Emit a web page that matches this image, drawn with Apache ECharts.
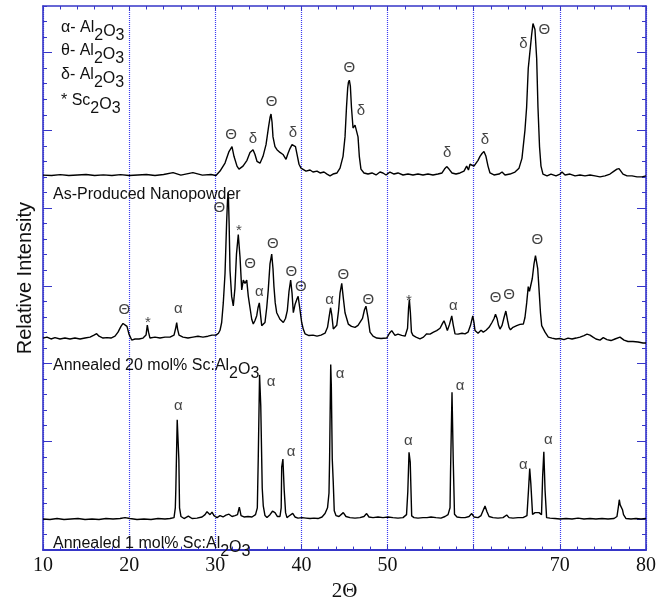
<!DOCTYPE html>
<html>
<head>
<meta charset="utf-8">
<script src="https://cdn.jsdelivr.net/npm/echarts@6/dist/echarts.min.js"></script>
<style>
  html, body { margin: 0; padding: 0; background: #fff; }
  #chart { width: 661px; height: 607px; }
</style>
</head>
<body>
<div id="chart"></div>
<script>
// 2θ values that carry a tick label on the bottom axis (60 is left unlabelled)
const angleTickLabels = [10, 20, 30, 40, 50, 70, 80];
// major tick positions on the intensity axis
const intensityMajorTicks = [0, 5, 10, 15, 20, 25, 30];

// vertical offsets of the three stacked patterns
const producedOffset = 22.1;
const annealed20Offset = 11.67;
const annealed1Offset = 0;

// As-produced nanopowder: [2θ, relative intensity above its own baseline]
const producedPattern = [
  [10.0,0.02],[11.0,0.0],[12.0,0.05],[13.0,0.0],[14.0,0.03],[15.0,0.06],[16.0,0.0],[17.0,0.04],[18.0,0.0],
  [19.0,0.05],[20.0,0.0],[21.0,0.03],[22.0,0.06],[23.0,0.0],[24.0,0.06],[25.1,0.18],[26.0,0.02],[27.4,0.18],
  [28.5,0.02],[29.5,0.06],[30.08,0.0],[30.55,0.28],[31.13,0.8],[31.59,1.54],[31.94,1.85],[32.17,1.23],
  [32.52,0.6],[32.75,0.41],[33.22,0.6],[33.68,0.97],[34.03,1.48],[34.38,1.66],[34.61,1.35],[34.84,0.91],
  [35.19,0.79],[35.54,1.23],[35.89,1.98],[36.18,3.11],[36.36,3.74],[36.47,3.95],[36.59,3.42],[36.70,2.48],
  [36.93,1.85],[37.16,1.66],[37.51,1.48],[37.86,1.35],[38.21,1.04],[38.44,1.41],[38.67,1.73],[38.91,1.98],
  [39.14,2.10],[39.31,1.85],[39.49,1.35],[39.72,0.72],[39.95,0.47],[40.18,0.41],[40.53,0.28],[41.0,0.35],
  [41.34,0.22],[41.81,0.28],[42.16,0.16],[42.62,0.22],[42.97,0.09],[43.32,-0.03],[43.67,0.09],[44.13,0.16],
  [44.48,0.47],[44.83,1.23],[45.06,2.48],[45.23,4.37],[45.37,5.62],[45.46,6.0],[45.56,6.13],[45.68,5.75],
  [45.81,4.37],[45.99,3.05],[46.22,3.24],[46.42,3.36],[46.57,2.48],[46.72,1.23],[46.91,0.41],[47.26,0.16],
  [47.73,0.09],[48.19,0.16],[48.66,0.03],[49.12,0.22],[49.47,0.16],[49.82,0.03],[50.28,0.22],[50.75,0.09],
  [51.21,0.16],[51.79,0.03],[52.37,0.09],[52.95,0.03],[53.53,0.09],[54.11,0.03],[54.69,0.09],[55.27,0.03],
  [55.85,0.09],[56.32,0.16],[56.61,0.41],[56.86,0.57],[57.13,0.41],[57.48,0.16],[57.94,0.09],[58.41,0.16],
  [58.87,0.28],[59.18,0.6],[59.39,0.35],[59.57,0.72],[59.80,0.8],[60.03,0.6],[60.26,0.72],[60.50,0.97],
  [60.73,1.23],[60.96,1.41],[61.19,1.54],[61.42,1.23],[61.66,0.6],[61.89,0.16],[62.35,0.03],[62.94,0.09],
  [63.29,0.22],[63.63,0.03],[64.21,0.09],[64.79,0.22],[65.26,0.47],[65.6,1.1],[65.95,2.92],[66.14,4.37],
  [66.33,6.88],[66.47,7.64],[66.59,7.76],[66.73,9.08],[66.88,9.77],[67.0,9.85],[67.11,9.39],[67.31,7.51],
  [67.46,4.37],[67.64,1.85],[67.81,0.6],[68.04,0.09],[68.51,-0.03],[68.97,0.09],[69.55,-0.03],[70.02,0.09],
  [70.25,0.22],[70.6,0.03],[71.18,0.09],[71.76,-0.03],[72.34,0.03],[72.92,-0.03],[73.5,0.03],[74.08,-0.03],
  [74.66,-0.09],[75.24,-0.03],[75.82,0.09],[76.29,0.28],[76.63,0.41],[76.87,0.44],[77.10,0.35],[77.33,0.09],
  [77.8,-0.03],[78.38,-0.03],[78.96,-0.09],[79.54,-0.09],[80.0,-0.03]
];

// Annealed 20 mol% Sc:Al2O3
const annealed20Pattern = [
  [10.0,-0.03],[10.46,0.03],[10.93,-0.09],[11.39,0.0],[11.97,-0.09],[12.55,-0.03],[13.13,-0.09],[13.71,-0.03],
  [14.30,-0.09],[14.88,-0.03],[15.46,0.03],[15.92,0.16],[16.23,0.25],[16.50,0.09],[16.97,-0.03],[17.43,0.0],
  [17.89,-0.03],[18.36,0.09],[18.71,0.35],[19.05,0.72],[19.29,0.91],[19.52,0.97],[19.75,0.72],[19.98,0.22],
  [20.30,-0.16],[20.68,-0.09],[21.15,-0.09],[21.61,-0.03],[21.96,0.16],[22.11,0.80],[22.25,0.35],[22.42,-0.03],
  [23.0,0.03],[23.58,-0.03],[24.16,0.03],[24.74,0.03],[25.21,0.16],[25.40,0.60],[25.52,0.97],[25.63,0.53],
  [25.79,0.16],[26.25,0.03],[26.83,-0.03],[27.41,0.03],[27.99,0.09],[28.57,0.03],[29.15,0.09],[29.62,0.16],
  [30.08,0.16],[30.37,0.28],[30.55,0.47],[30.74,0.97],[30.93,2.23],[31.13,4.12],[31.32,7.47],[31.42,8.83],
  [31.51,9.35],[31.61,7.26],[31.71,4.32],[31.90,2.65],[32.09,2.04],[32.28,3.17],[32.46,5.37],[32.67,6.62],
  [32.87,5.18],[33.07,3.07],[33.25,3.70],[33.45,3.49],[33.65,3.70],[33.83,2.67],[34.03,1.92],[34.23,1.18],
  [34.41,0.87],[34.61,1.10],[34.81,1.41],[34.96,1.92],[35.11,2.23],[35.25,1.48],[35.39,0.77],[35.57,0.72],
  [35.77,0.97],[35.97,1.92],[36.15,3.07],[36.35,4.74],[36.55,5.37],[36.70,4.43],[36.81,3.28],[36.96,2.23],
  [37.13,1.60],[37.51,1.18],[37.90,0.97],[38.15,1.23],[38.36,1.73],[38.56,2.98],[38.75,3.70],[38.91,2.86],
  [39.06,1.60],[39.25,2.11],[39.45,2.44],[39.62,2.65],[39.80,1.92],[40.03,0.97],[40.22,0.53],[40.42,0.24],
  [40.88,0.13],[41.34,0.16],[41.81,0.09],[42.27,0.16],[42.74,0.28],[43.03,0.66],[43.20,1.29],[43.38,1.92],
  [43.52,1.48],[43.70,0.55],[43.90,0.66],[44.10,0.79],[44.31,1.73],[44.48,2.86],[44.68,3.49],[44.86,2.55],
  [45.06,1.60],[45.44,0.87],[45.81,0.72],[46.22,0.66],[46.57,0.79],[46.80,0.79],[47.09,1.23],[47.32,1.79],
  [47.49,2.02],[47.73,1.29],[47.96,0.35],[48.31,0.09],[48.74,-0.03],[49.24,-0.06],[49.90,-0.03],[50.22,0.28],
  [50.48,0.45],[50.69,0.35],[50.86,0.14],[51.21,0.22],[51.64,0.14],[52.03,0.09],[52.32,0.60],[52.44,1.92],
  [52.53,2.44],[52.65,1.60],[52.77,0.35],[52.95,0.14],[53.30,0.03],[53.76,-0.08],[54.17,0.03],[54.54,0.24],
  [54.93,0.22],[55.33,0.35],[55.70,0.45],[56.09,0.60],[56.38,0.91],[56.55,1.08],[56.75,0.79],[56.94,0.45],
  [57.19,0.85],[57.45,1.40],[57.63,0.79],[57.83,0.24],[58.18,0.22],[58.64,0.28],[58.99,0.24],[59.34,0.35],
  [59.63,0.79],[59.89,1.40],[60.03,0.97],[60.15,0.45],[60.50,0.28],[60.85,0.47],[61.11,0.35],[61.43,0.47],
  [61.78,0.66],[62.12,0.97],[62.36,1.23],[62.53,1.50],[62.71,1.23],[62.88,0.79],[63.05,0.55],[63.29,0.79],
  [63.52,1.29],[63.73,1.71],[63.93,1.10],[64.10,0.66],[64.27,0.50],[64.56,0.66],[64.99,0.77],[65.37,0.85],
  [65.76,0.87],[65.95,1.29],[66.15,2.23],[66.33,3.28],[66.47,2.98],[66.61,2.86],[66.80,3.80],[67.0,4.74],
  [67.17,5.27],[67.29,5.37],[67.43,4.43],[67.61,2.86],[67.75,1.60],[67.89,0.77],[68.08,0.66],[68.28,0.35],
  [68.66,0.03],[69.09,-0.03],[69.55,-0.09],[70.02,-0.06],[70.48,-0.13],[70.95,-0.03],[71.41,-0.09],[71.88,-0.03],
  [72.34,0.03],[72.80,0.13],[73.15,0.22],[73.50,0.16],[73.85,0.03],[74.19,-0.09],[74.66,-0.16],[75.04,0.0],
  [75.47,-0.13],[75.94,-0.19],[76.40,-0.09],[76.98,0.03],[77.45,-0.16],[77.91,-0.25],[78.49,-0.25],[79.08,-0.28],
  [79.65,-0.35],[80.0,-0.35]
];

// Annealed 1 mol% Sc:Al2O3
const annealed1Pattern = [
  [10.0,0.0],[10.81,-0.03],[11.63,0.03],[12.44,-0.03],[13.25,0.0],[14.06,0.03],[14.88,-0.03],[15.69,0.0],
  [16.50,-0.03],[17.31,0.03],[18.13,0.0],[18.94,0.03],[19.52,0.09],[20.10,0.03],[20.91,-0.03],[21.72,0.0],
  [22.54,-0.03],[23.35,0.03],[24.16,0.0],[24.74,0.03],[25.21,0.09],[25.36,0.72],[25.42,1.92],[25.53,1.92],
  [25.58,6.38],[25.70,6.49],[25.77,3.86],[25.85,0.72],[26.02,0.16],[26.37,0.03],[26.87,0.19],[27.30,0.03],
  [27.88,0.06],[28.46,0.13],[28.81,0.28],[29.04,0.47],[29.19,0.52],[29.39,0.28],[29.62,0.44],[29.85,0.22],
  [30.20,0.09],[30.55,0.22],[30.90,0.13],[31.24,0.25],[31.59,0.31],[31.94,0.16],[32.29,0.22],[32.58,0.28],
  [32.79,0.77],[32.99,0.22],[33.33,0.13],[33.80,0.16],[34.26,0.13],[34.67,0.28],[34.88,0.72],[34.99,3.97],
  [35.11,3.97],[35.14,9.27],[35.24,9.27],[35.28,7.26],[35.38,7.26],[35.45,1.98],[35.57,0.85],[35.77,0.22],
  [36.00,0.09],[36.35,0.28],[36.64,0.50],[36.93,0.41],[37.22,0.16],[37.51,0.16],[37.65,0.72],[37.71,3.34],
  [37.80,3.34],[37.85,3.86],[37.93,3.86],[38.00,1.87],[38.09,1.87],[38.16,0.41],[38.32,0.09],[38.56,0.19],
  [38.99,0.36],[39.25,0.13],[39.60,0.06],[40.07,0.09],[40.53,0.06],[41.0,0.03],[41.46,0.06],[41.92,0.03],
  [42.39,0.13],[42.74,0.35],[43.03,0.72],[43.20,1.67],[43.27,3.86],[43.36,3.86],[43.40,9.94],[43.47,8.58],
  [43.54,8.58],[43.58,3.86],[43.69,2.42],[43.81,0.53],[44.01,0.22],[44.36,0.16],[44.86,0.41],[45.17,0.16],
  [45.64,0.09],[46.22,0.06],[46.80,0.09],[47.26,0.16],[47.57,0.35],[47.84,0.13],[48.31,0.09],[48.89,0.13],
  [49.47,0.09],[50.05,0.13],[50.63,0.09],[51.21,0.06],[51.79,0.09],[52.20,0.28],[52.35,1.77],[52.44,1.77],
  [52.49,4.29],[52.57,4.29],[52.63,3.66],[52.72,3.66],[52.80,0.20],[53.07,0.09],[53.53,0.06],[54.11,0.09],
  [54.58,0.09],[55.04,0.13],[55.62,0.09],[56.20,0.06],[56.67,0.16],[57.02,0.28],[57.25,0.72],[57.31,3.03],
  [57.43,3.03],[57.48,8.16],[57.58,8.16],[57.62,3.86],[57.71,3.86],[57.77,0.30],[58.06,0.13],[58.53,0.09],
  [58.99,0.09],[59.46,0.16],[59.77,0.35],[60.03,0.13],[60.50,0.09],[60.85,0.22],[61.08,0.53],[61.31,0.83],
  [61.54,0.47],[61.78,0.16],[62.24,0.09],[62.82,0.06],[63.40,0.09],[63.83,0.26],[64.10,0.09],[64.56,0.06],
  [65.14,0.09],[65.72,0.09],[66.18,0.22],[66.36,1.87],[66.45,1.87],[66.50,3.24],[66.59,3.24],[66.63,2.29],
  [66.71,2.29],[66.83,0.30],[67.12,0.41],[67.31,0.52],[67.58,0.41],[67.87,0.28],[68.00,2.71],[68.09,2.71],
  [68.14,4.32],[68.23,4.32],[68.28,1.87],[68.37,1.87],[68.46,0.09],[68.86,0.06],[69.44,0.03],[70.02,0.0],
  [70.72,0.03],[71.41,0.0],[72.11,0.06],[72.80,0.0],[73.50,0.03],[74.19,0.0],[74.89,0.03],[75.59,0.0],
  [76.29,0.03],[76.63,0.16],[76.81,0.85],[76.90,1.24],[77.00,0.91],[77.10,0.93],[77.27,0.60],[77.39,0.28],
  [77.68,0.03],[78.26,0.0],[78.84,0.03],[79.42,0.0],[80.0,0.03]
];

// phase marks placed above the reflections: [2θ, height above baseline, phase symbol]
const producedPeaks = [
  [31.82,2.64,'Θ'],[34.38,2.36,'δ'],[36.53,4.74,'Θ'],[39.02,2.76,'δ'],[45.56,6.94,'Θ'],
  [46.92,4.18,'δ'],[56.93,1.43,'δ'],[61.31,2.27,'δ'],[65.76,8.45,'δ'],[68.20,9.35,'Θ']
];
const annealed20Peaks = [
  [19.44,1.81,'Θ'],[22.19,0.97,'*'],[25.71,1.85,'α'],[30.47,8.34,'Θ'],[32.75,6.88,'*'],
  [34.03,4.74,'Θ'],[35.11,2.97,'α'],[36.67,6.05,'Θ'],[38.82,4.22,'Θ'],[39.92,3.28,'Θ'],
  [43.26,2.42,'α'],[44.86,4.01,'Θ'],[47.76,2.40,'Θ'],[52.49,2.39,'*'],[57.63,2.02,'α'],
  [62.55,2.55,'Θ'],[64.10,2.75,'Θ'],[67.38,6.27,'Θ']
];
const annealed1Peaks = [
  [25.71,7.28,'α'],[36.47,8.85,'α'],[38.79,4.29,'α'],[44.48,9.31,'α'],[52.41,5.01,'α'],
  [58.41,8.58,'α'],[65.76,3.49,'α'],[68.66,5.06,'α']
];

// phase key in the upper-left corner
const phaseKeyPrefixes = ['α- Al', 'θ- Al', 'δ- Al', '* Sc'];
const phaseKeyTops = [19.5, 43, 66.5, 93];

// pattern captions
const captionTexts = ['As-Produced Nanopowder', 'Annealed 20 mol% Sc:Al', 'Annealed 1 mol% Sc:Al'];
const captionTops = [186.5, 357.5, 536];
const captionHasFormula = [false, true, true];

const FRAME = '#3636c8';
const GRID = '#3c3cf0';
const INK = '#000';
const SANS = 'Liberation Sans, Arial, sans-serif';
const SERIF = 'Liberation Serif, Times New Roman, serif';

function shift(pattern, offset) {
  return pattern.map(p => [p[0], p[1] + offset]);
}
function shiftPeaks(peaks, offset) {
  return peaks.map(p => [p[0], p[1] + offset, p[2]]);
}

const formulaRich = {
  m: { fontSize: 16, fontFamily: SANS, fill: '#111', verticalAlign: 'top', lineHeight: 24 },
  o: { fontSize: 16, fontFamily: SANS, fill: '#111', verticalAlign: 'middle', lineHeight: 24 },
  s: { fontSize: 16, fontFamily: SANS, fill: '#111', verticalAlign: 'bottom', lineHeight: 24 }
};
function formula(prefix) {
  return '{m|' + prefix + '}{s|2}{o|O}{s|3}';
}

const graphics = [];
phaseKeyPrefixes.forEach((p, i) => {
  graphics.push({
    type: 'text', x: 61, y: phaseKeyTops[i], z: 10,
    style: { text: formula(p), rich: formulaRich, verticalAlign: 'top', align: 'left' }
  });
});
captionTexts.forEach((t, i) => {
  graphics.push({
    type: 'text', x: 53, y: captionTops[i], z: 10,
    style: {
      text: captionHasFormula[i] ? formula(t) : '{m|' + t + '}',
      rich: formulaRich, verticalAlign: 'top', align: 'left'
    }
  });
});

function traceSeries(name, data) {
  return {
    name: name, type: 'line', data: data, showSymbol: false, symbol: 'none',
    xAxisIndex: 0, yAxisIndex: 0, smooth: false, sampling: null,
    lineStyle: { color: INK, width: 1.4 }, z: 3, silent: true
  };
}
function peakSeries(data) {
  return {
    type: 'scatter', data: data, xAxisIndex: 0, yAxisIndex: 0,
    symbolSize: 1, itemStyle: { color: 'rgba(0,0,0,0)' }, z: 4, silent: true,
    label: {
      show: true, position: 'inside', formatter: p => p.value[2],
      fontSize: 15, fontFamily: SANS, color: '#111'
    }
  };
}

const yRange = { min: -2, max: 33 };
function minorYAxis(position, withLine) {
  return {
    type: 'value', position: position, min: yRange.min, max: yRange.max, interval: 1,
    axisLine: { show: withLine, onZero: false, lineStyle: { color: FRAME, width: 1.6 } },
    axisTick: { show: true, inside: true, length: 4, lineStyle: { color: FRAME, width: 1 } },
    axisLabel: { show: false }, splitLine: { show: false }
  };
}
function majorYAxis(position) {
  return {
    type: 'value', position: position, min: yRange.min, max: yRange.max, interval: 1,
    axisLine: { show: false },
    axisTick: { show: true, inside: true, length: 9, customValues: intensityMajorTicks,
      lineStyle: { color: FRAME, width: 1 } },
    axisLabel: { show: false }, splitLine: { show: false }
  };
}

const leftMinor = minorYAxis('left', true);
leftMinor.name = 'Relative Intensity';
leftMinor.nameLocation = 'middle';
leftMinor.nameGap = 8;
leftMinor.nameTextStyle = { fontSize: 20, fontFamily: SANS, color: '#111' };

const option = {
  animation: false,
  backgroundColor: '#fff',
  grid: { left: 43, right: 15, top: 6, bottom: 44, containLabel: false },
  xAxis: [
    {
      type: 'value', position: 'bottom', min: 10, max: 80, interval: 10,
      name: '2Θ', nameLocation: 'middle', nameGap: 22,
      nameTextStyle: { fontSize: 21, fontFamily: SERIF, color: '#111' },
      axisLine: { show: true, onZero: false, lineStyle: { color: FRAME, width: 1.8 } },
      axisTick: { show: true, inside: true, length: 6, lineStyle: { color: FRAME, width: 1 } },
      minorTick: { show: true, splitNumber: 5, length: 3.5, lineStyle: { color: FRAME, width: 1 } },
      axisLabel: {
        show: true, margin: 6, fontSize: 20, fontFamily: SERIF, color: '#111',
        formatter: v => (angleTickLabels.indexOf(v) >= 0 ? String(v) : '')
      },
      splitLine: { show: true, lineStyle: { color: GRID, type: [1, 1], width: 1.2 } }
    },
    {
      type: 'value', position: 'top', min: 10, max: 80, interval: 10,
      axisLine: { show: true, onZero: false, lineStyle: { color: FRAME, width: 1.6 } },
      axisTick: { show: true, inside: true, length: 5, lineStyle: { color: FRAME, width: 1 } },
      minorTick: { show: true, splitNumber: 5, length: 3.5, lineStyle: { color: FRAME, width: 1 } },
      axisLabel: { show: false }, splitLine: { show: false }
    }
  ],
  yAxis: [leftMinor, majorYAxis('left'), minorYAxis('right', true), majorYAxis('right')],
  graphic: graphics,
  series: [
    traceSeries('As-Produced Nanopowder', shift(producedPattern, producedOffset)),
    traceSeries('Annealed 20 mol% Sc:Al2O3', shift(annealed20Pattern, annealed20Offset)),
    traceSeries('Annealed 1 mol% Sc:Al2O3', shift(annealed1Pattern, annealed1Offset)),
    peakSeries(shiftPeaks(producedPeaks, producedOffset)),
    peakSeries(shiftPeaks(annealed20Peaks, annealed20Offset)),
    peakSeries(shiftPeaks(annealed1Peaks, annealed1Offset))
  ]
};

const chart = echarts.init(document.getElementById('chart'), null, { renderer: 'canvas' });
chart.setOption(option);
</script>
</body>
</html>
